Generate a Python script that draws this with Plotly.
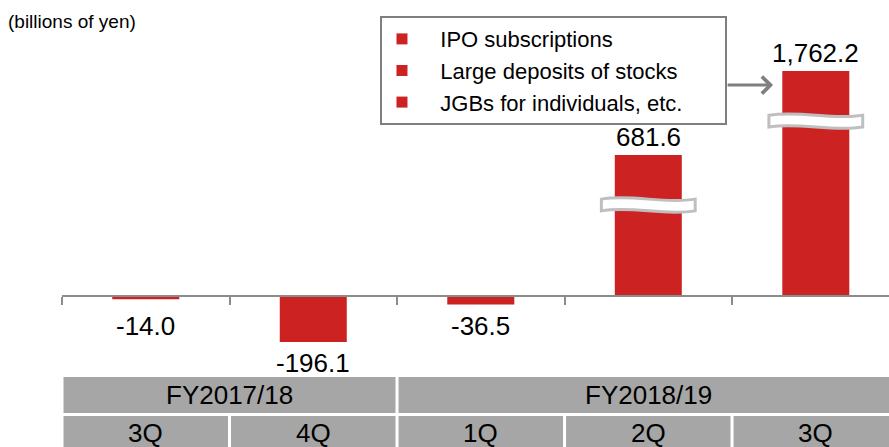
import plotly.graph_objects as go

# data
quarters = ['3Q', '4Q', '1Q', '2Q', '3Q']
fiscal_years = ['FY2017/18', 'FY2018/19']
fy_span = [2, 3]  # quarters per fiscal year shown
values = [-14.0, -196.1, -36.5, 681.6, 1762.2]
legend_items = ['IPO subscriptions', 'Large deposits of stocks', 'JGBs for individuals, etc.']

RED = '#CC2222'
GRAY = '#A6A6A6'
FONT = 'Liberation Sans, Arial, sans-serif'
NB = '\u00a0'

# broken axis: values above BREAK_AT are compressed
BREAK_AT = 561
BREAK_SCALE = 0.331

def squash(v):
    if v <= BREAK_AT:
        return v
    return BREAK_AT + (v - BREAK_AT) * BREAK_SCALE

x = list(range(len(values)))
heights = [squash(v) for v in values]

def fmt(v):
    return f'{v:,.1f}'

fig = go.Figure()
fig.add_trace(go.Bar(x=x, y=heights, width=0.4, marker=dict(color=RED, line=dict(width=0)),
                     showlegend=False, hoverinfo='skip'))

for k, name in enumerate(legend_items):
    label = NB * 3 + name + (NB * 6 if k == len(legend_items) - 1 else '')
    fig.add_trace(go.Scatter(x=[None], y=[None], mode='markers', name=label,
                             marker=dict(symbol='square', size=11, color=RED)))

annotations = []
for i, (v, h) in enumerate(zip(values, heights)):
    if v < 0:
        annotations.append(dict(x=i, y=min(h, -40), text=fmt(v), showarrow=False,
                                yanchor='top', yshift=-4, font=dict(size=26)))
    else:
        annotations.append(dict(x=i, y=h, text=fmt(v), showarrow=False,
                                yanchor='bottom', yshift=1, font=dict(size=26)))

shapes = []
# break marks on the compressed bars
for i, (v, h) in enumerate(zip(values, heights)):
    if v > BREAK_AT:
        c = h - 213
        L, R = i - 0.28, i + 0.28
        w = R - L
        top, bot, a = c + 25, c - 25, 22
        path = (f'M{L},{top} C{L + w/3},{top + a} {L + 2*w/3},{top - a} {R},{top} '
                f'L{R},{bot} C{L + 2*w/3},{bot - a} {L + w/3},{bot + a} {L},{bot} Z')
        shapes.append(dict(type='path', path=path, xref='x', yref='y', fillcolor='white',
                           line=dict(color='#BFBFBF', width=3), layer='above'))

# category table under the chart
row1 = (0.0761, 0.1566)
row2 = (-0.01, 0.0694)
gap = 0.009
start = -0.5
for fy, n in zip(fiscal_years, fy_span):
    x0, x1 = start, start + n
    if x1 >= len(values) - 0.5:
        x1 = len(values)
    shapes.append(dict(type='rect', xref='x', yref='paper', x0=x0 + gap, x1=x1 - gap,
                       y0=row1[0], y1=row1[1], fillcolor=GRAY, line=dict(width=0), layer='below'))
    annotations.append(dict(x=(start + start + n) / 2, y=sum(row1) / 2, xref='x', yref='paper',
                            text=fy, showarrow=False, yanchor='middle', font=dict(size=26)))
    start += n
for i, q in enumerate(quarters):
    x1 = i + 0.5 if i < len(quarters) - 1 else len(values)
    shapes.append(dict(type='rect', xref='x', yref='paper', x0=i - 0.5 + gap, x1=x1 - gap,
                       y0=row2[0], y1=row2[1], fillcolor=GRAY, line=dict(width=0), layer='below'))
    annotations.append(dict(x=i, y=0.032, xref='x', yref='paper', text=q, showarrow=False,
                            yanchor='middle', font=dict(size=26)))

# unit label
annotations.append(dict(x=-0.068, y=0.951, xref='paper', yref='paper', text='(billions of yen)',
                        showarrow=False, xanchor='left', yanchor='middle', font=dict(size=19)))

# arrow from legend to the last bar
annotations.append(dict(x=3.745, y=899, xref='x', yref='y', ax=-47, ay=0, text='',
                        showarrow=True, arrowhead=4, arrowsize=1.1, arrowwidth=3,
                        arrowcolor='#7F7F7F'))

baseline_pos = (447 - 296) / 447

fig.update_layout(
    width=889, height=447,
    margin=dict(l=62, r=0, t=0, b=0),
    plot_bgcolor='white', paper_bgcolor='white',
    font=dict(family=FONT, color='black'),
    barmode='overlay',
    xaxis=dict(range=[-0.5, 4.437], anchor='free', position=baseline_pos,
               showline=True, linecolor='#8C8C8C', linewidth=2,
               tickvals=[-0.5, 0.5, 1.5, 2.5, 3.5], ticks='outside', ticklen=8,
               tickcolor='#8C8C8C', tickwidth=2, showticklabels=False, showgrid=False,
               zeroline=False, fixedrange=True),
    yaxis=dict(range=[-643.6, 1261.7], visible=False, fixedrange=True),
    legend=dict(x=0.3845, y=0.964, xanchor='left', yanchor='top',
                bordercolor='#7F7F7F', borderwidth=2, bgcolor='white',
                font=dict(size=22), itemclick=False),
    annotations=annotations,
    shapes=shapes,
)

fig.write_html('out.html', config={'displayModeBar': False},
               post_script="document.body.style.margin='0';")
